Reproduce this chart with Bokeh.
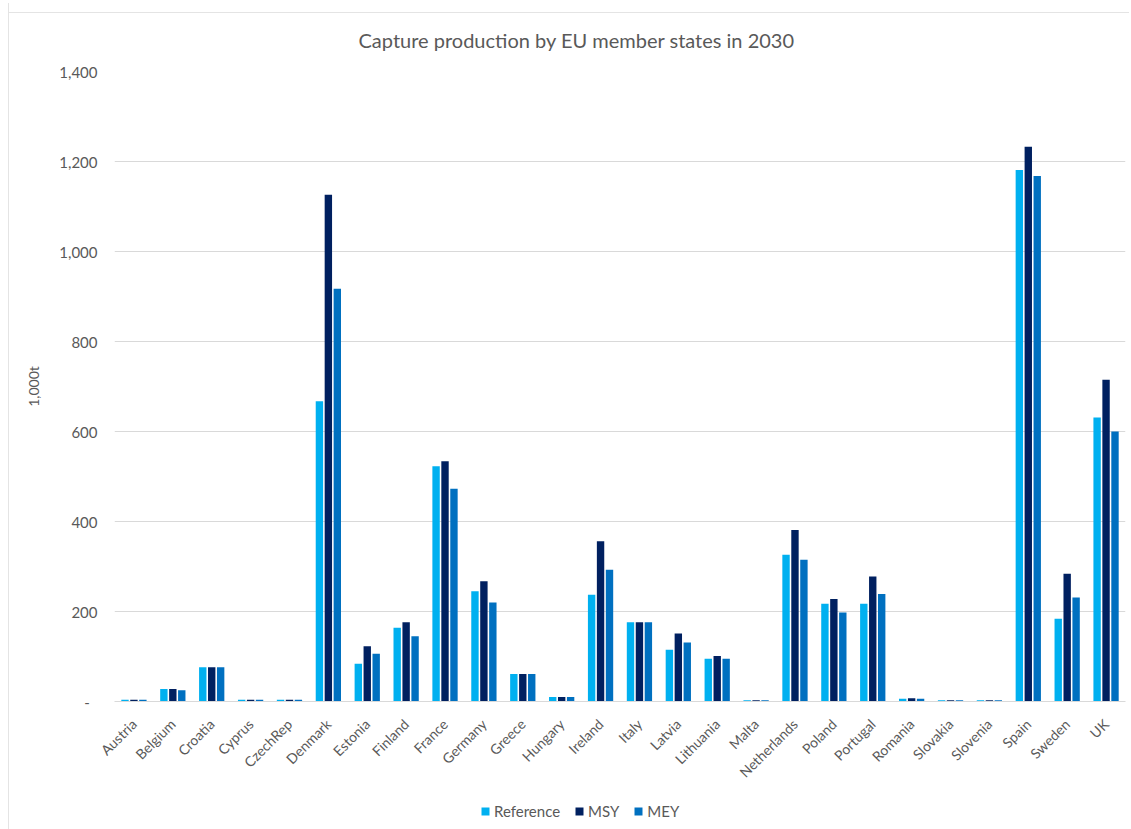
from bokeh.plotting import figure
from bokeh.layouts import column
from bokeh.models import (ColumnDataSource, FactorRange, Range1d, FixedTicker,
                          Legend, LegendItem, NumeralTickFormatter)
from bokeh.transform import dodge
from bokeh.embed import file_html
from bokeh.resources import INLINE
import math

# Capture production (1,000 t) by member state, 2030 scenarios
countries = ["Austria", "Belgium", "Croatia", "Cyprus", "CzechRep", "Denmark",
             "Estonia", "Finland", "France", "Germany", "Greece", "Hungary",
             "Ireland", "Italy", "Latvia", "Lithuania", "Malta", "Netherlands",
             "Poland", "Portugal", "Romania", "Slovakia", "Slovenia", "Spain",
             "Sweden", "UK"]
reference = [4, 28, 76, 4, 4, 667, 84, 164, 523, 245, 61, 10, 237, 176, 115, 95,
             3, 326, 217, 217, 6, 3, 3, 1181, 184, 631]
msy = [4, 28, 76, 4, 4, 1126, 123, 176, 534, 267, 61, 10, 356, 176, 151, 101,
       3, 381, 228, 278, 7, 3, 3, 1233, 284, 715]
mey = [4, 25, 76, 4, 4, 917, 106, 145, 473, 220, 61, 10, 293, 176, 131, 95,
       3, 315, 198, 239, 6, 3, 3, 1168, 231, 600]
y_ticks = [0, 200, 400, 600, 800, 1000, 1200, 1400]

series = ["Reference", "MSY", "MEY"]
colors = ["#00B0F0", "#002060", "#0070C0"]
offsets = [-0.23, 0.0, 0.23]

FONT = "Lato"
TXT = "#595959"
EDGE = "#e4e4e4"

source = ColumnDataSource(dict(country=countries, Reference=reference,
                               MSY=msy, MEY=mey))

p = figure(x_range=FactorRange(*countries, range_padding=0),
           y_range=Range1d(0, 1400),
           frame_width=1010, frame_height=630,
           min_border_left=105, min_border_top=68, min_border_right=5,
           min_border_bottom=128,
           output_backend="svg", toolbar_location=None,
           title="Capture production by EU member states in 2030")
p.margin = (3, 0, 0, 8)
# thin chart-area edge along the top and left
p.border_fill_alpha = 0
p.styles = {"border-left": f"1px solid {EDGE}",
            "background": f"linear-gradient({EDGE}, {EDGE}) 0 9px / 100% 1px no-repeat"}

p.title.text_font = FONT
p.title.text_font_size = "20px"
p.title.text_font_style = "normal"
p.title.text_color = TXT
p.title.align = "left"
p.title.offset = 244
p.title.standoff = 40

for name, color, off in zip(series, colors, offsets):
    p.vbar(x=dodge("country", off, range=p.x_range), top=name, width=0.19,
           source=source, fill_color=color, line_color=None)

# axes
p.xaxis.axis_line_color = "#d9d9d9"
p.xaxis.major_tick_line_color = None
p.xaxis.minor_tick_line_color = None
p.xaxis.major_tick_out = 0
p.xaxis.major_tick_in = 0
p.xaxis.major_label_orientation = math.pi / 4
p.xaxis.major_label_text_font = FONT
p.xaxis.major_label_text_font_size = "14px"
p.xaxis.major_label_text_color = TXT
p.xaxis.major_label_standoff = 20

p.yaxis.axis_line_color = None
p.yaxis.major_tick_line_color = None
p.yaxis.minor_tick_line_color = None
p.yaxis.major_tick_out = 0
p.yaxis.major_tick_in = 0
p.yaxis.ticker = FixedTicker(ticks=y_ticks)
p.yaxis.formatter = NumeralTickFormatter(format="0,0")
p.yaxis.major_label_overrides = {0: "-\u00a0\u00a0"}
p.yaxis.major_label_text_font = FONT
p.yaxis.major_label_text_font_size = "15px"
p.yaxis.major_label_text_color = TXT
p.yaxis.major_label_standoff = 17
p.yaxis.axis_label = "1,000t"
p.yaxis.axis_label_text_font = FONT
p.yaxis.axis_label_text_font_size = "14px"
p.yaxis.axis_label_text_font_style = "normal"
p.yaxis.axis_label_text_color = TXT
p.yaxis.axis_label_standoff = 14

p.xgrid.grid_line_color = None
p.ygrid.grid_line_color = "#d9d9d9"
p.ygrid.ticker = FixedTicker(ticks=y_ticks)
p.outline_line_color = None
p.background_fill_color = "white"

# legend strip laid over the foot of the chart, below the category labels;
# its bars share the data but fall far below the strip's y range, so only the key shows
key = figure(width=1131, height=40, x_range=FactorRange(*countries, range_padding=0),
             y_range=Range1d(5000, 6000), min_border=0,
             output_backend="svg", toolbar_location=None)
key.axis.visible = False
key.grid.visible = False
key.outline_line_color = None
key.background_fill_alpha = 0
key.border_fill_alpha = 0
key.styles = {"position": "absolute", "left": "0px", "top": "791px"}
key_items = []
for name, color, off in zip(series, colors, offsets):
    r = key.vbar(x=dodge("country", off, range=key.x_range), top=name, width=0.19,
                 source=source, fill_color=color, line_color=None)
    key_items.append(LegendItem(label=name, renderers=[r]))

legend = Legend(items=key_items, orientation="horizontal", location=(375, 11))
legend.label_text_font = FONT
legend.label_text_font_size = "15px"
legend.label_text_color = TXT
legend.glyph_width = 10
legend.glyph_height = 10
legend.label_standoff = 4
legend.spacing = 14
legend.padding = 4
legend.margin = 0
legend.border_line_color = None
legend.background_fill_alpha = 0
key.add_layout(legend, "center")

layout = column(p, key, spacing=0)
open("out.html", "w").write(file_html(layout, INLINE))
